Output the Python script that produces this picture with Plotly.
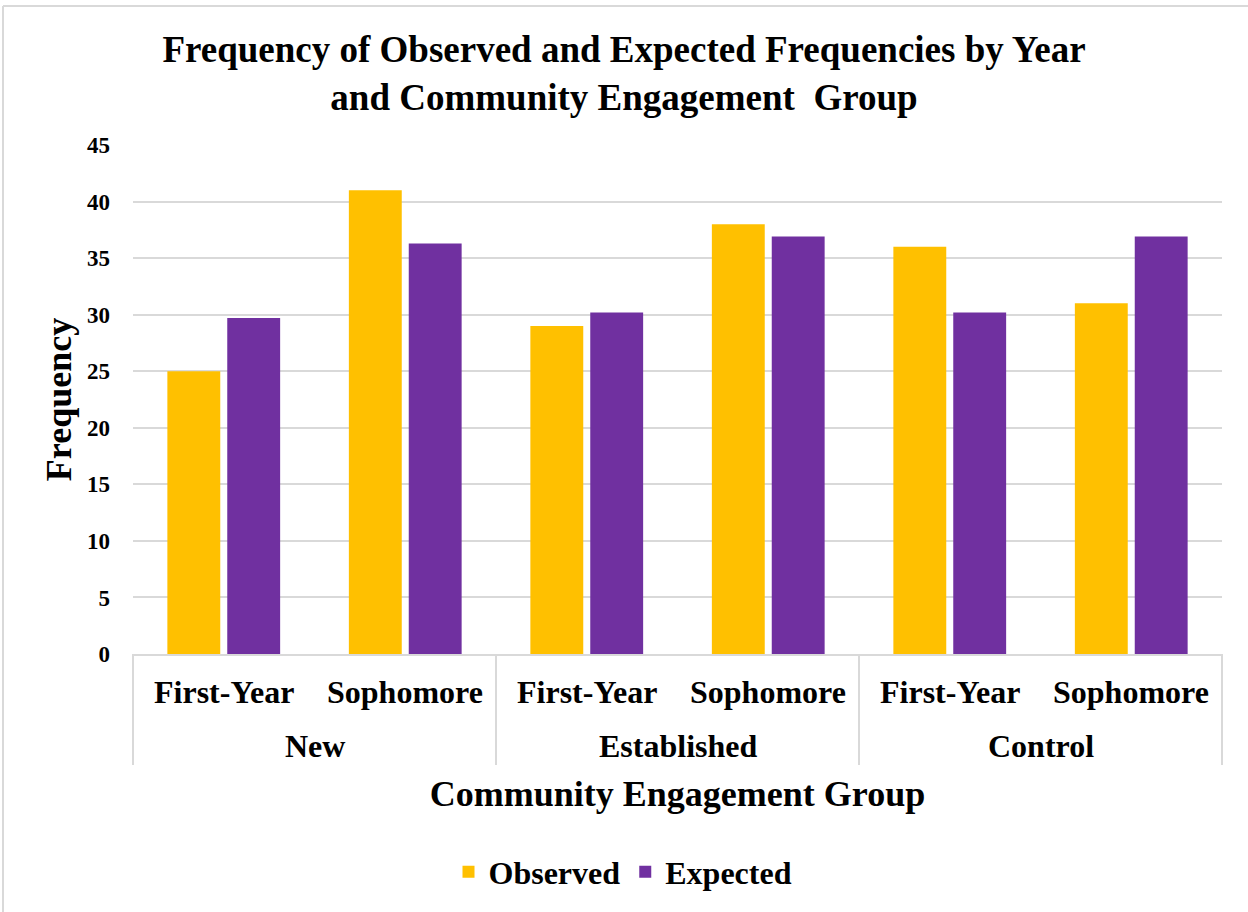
import plotly.graph_objects as go

groups = ["New", "New", "Established", "Established", "Control", "Control"]
years = ["First-Year", "Sophomore", "First-Year", "Sophomore", "First-Year", "Sophomore"]
observed = [25, 41, 29, 38, 36, 31]
expected = [29.7, 36.3, 30.2, 36.9, 30.2, 36.9]

W, H = 1248, 912
ml, mr, mt, mb = 133, 26, 145, 258
pw = W - ml - mr
ph = H - mt - mb

font_family = "Liberation Serif"
label_font = dict(size=32, family=font_family, color="black", weight="bold")

fig = go.Figure()
fig.add_trace(go.Bar(x=[groups, years], y=observed, name="Observed",
                     marker=dict(color="#FFC000", line=dict(width=0))))
fig.add_trace(go.Bar(x=[groups, years], y=expected, name="Expected",
                     marker=dict(color="#7030A0", line=dict(width=0))))

fig.update_layout(
    width=W, height=H,
    margin=dict(l=ml, r=mr, t=mt, b=mb),
    paper_bgcolor="white", plot_bgcolor="white",
    font=dict(family=font_family, color="black", weight="bold"),
    barmode="group", bargap=0.34, bargroupgap=0.117,
    title=dict(text="Frequency of Observed and Expected Frequencies by Year<br>and Community Engagement  Group",
               x=0.5, xanchor="center", y=1 - 62 / H, yanchor="middle",
               font=dict(size=37, family=font_family, color="black", weight="bold")),
    legend=dict(orientation="h", x=(623 - ml) / pw, xanchor="center", y=-(872 - 654) / ph, yanchor="middle",
                font=dict(size=32, family=font_family, color="black", weight="bold"),
                itemwidth=30, traceorder="normal"),
    showlegend=True,
)

fig.update_yaxes(range=[0, 45], dtick=5, showgrid=True, gridcolor="#D9D9D9", gridwidth=2,
                 zeroline=False, showline=False, ticks="", ticklabelstandoff=22,
                 tickfont=dict(size=23, family=font_family, color="black", weight="bold"),
                 title=dict(text="Frequency", font=dict(size=36, family=font_family, color="black", weight="bold"),
                            standoff=4))
fig.update_xaxes(type="multicategory", showline=True, linecolor="#D9D9D9", linewidth=2,
                 showticklabels=False, ticks="", showgrid=False, showdividers=False,
                 title=dict(text="Community Engagement Group",
                            font=dict(size=36, family=font_family, color="black", weight="bold"), standoff=126))

# two-level category labels and group dividers, placed from the category lists
n = len(years)
inner_y = -(692 - 654) / ph
outer_y = -(746 - 654) / ph
div_bottom = -(765 - 654) / ph
for i, yr in enumerate(years):
    fig.add_annotation(text=yr, x=(i + 0.5) / n, y=inner_y, xref="paper", yref="paper",
                       showarrow=False, xanchor="center", yanchor="middle", font=label_font)

bounds = [0]
for i in range(1, n):
    if groups[i] != groups[i - 1]:
        bounds.append(i)
bounds.append(n)
for a, b in zip(bounds[:-1], bounds[1:]):
    fig.add_annotation(text=groups[a], x=(a + b) / 2 / n, y=outer_y, xref="paper", yref="paper",
                       showarrow=False, xanchor="center", yanchor="middle", font=label_font)
for b in bounds:
    fig.add_shape(type="line", xref="paper", yref="paper", x0=b / n, x1=b / n, y0=0, y1=div_bottom,
                  line=dict(color="#D9D9D9", width=2))

# outer chart border (top and left, as in the cropped reference)
fig.add_shape(type="line", xref="paper", yref="paper",
              x0=(3 - ml) / pw, x1=(W + 10 - ml) / pw, y0=1 + (mt - 6) / ph, y1=1 + (mt - 6) / ph,
              line=dict(color="#D9D9D9", width=2))
fig.add_shape(type="line", xref="paper", yref="paper",
              x0=(3 - ml) / pw, x1=(3 - ml) / pw, y0=1 + (mt - 6) / ph, y1=-(H + 10 - mt - ph) / ph,
              line=dict(color="#D9D9D9", width=2))

fig.write_html("out.html")
